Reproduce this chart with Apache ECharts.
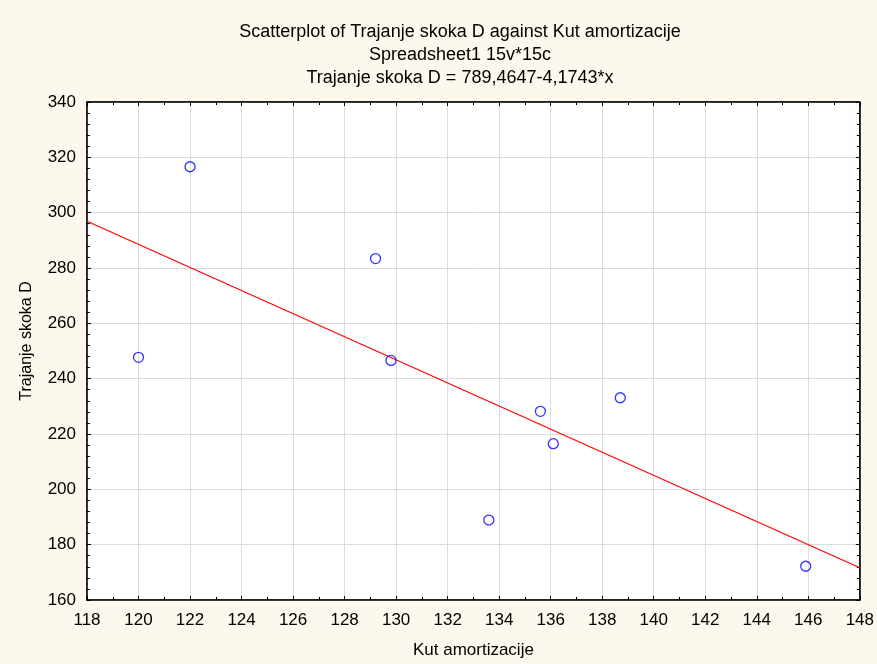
<!DOCTYPE html>
<html>
<head>
<meta charset="utf-8">
<script src="https://cdn.jsdelivr.net/npm/echarts@6/dist/echarts.min.js"></script>
<style>
  html, body { margin: 0; padding: 0; background: #fdf8ee; }
  #chart { width: 877px; height: 664px; }
</style>
</head>
<body>
<div id="chart"></div>
<script>
// data
const kutAmortizacije = [120.0, 122.0, 129.2, 129.8, 135.6, 136.1, 138.7, 133.6, 145.9]
const trajanjeSkoka = [247.7, 316.6, 283.4, 246.6, 228.2, 216.5, 233.1, 188.9, 172.2]
// fitted line from the subtitle
const intercept = 789.4647
const slope = -4.1743
const lineX = [118, 148]

const titleLines = [
  'Scatterplot of Trajanje skoka D against Kut amortizacije',
  'Spreadsheet1 15v*15c',
  'Trajanje skoka D = 789,4647-4,1743*x'
]

const font = 'Liberation Sans, Arial, sans-serif'
const points = kutAmortizacije.map((x, i) => [x, trajanjeSkoka[i]])
const fit = lineX.map(x => [x, intercept + slope * x])

const chart = echarts.init(document.getElementById('chart'))

const xCommon = {
  type: 'value',
  min: 118,
  max: 148,
  interval: 2,
  axisLine: { show: true, lineStyle: { color: '#000', width: 1.5 } },
  axisTick: { show: true, inside: true, length: 4, lineStyle: { color: '#000' } },
  minorTick: { show: true, splitNumber: 2, length: 3, lineStyle: { color: '#000' } }
}
const yCommon = {
  type: 'value',
  min: 160,
  max: 340,
  interval: 20,
  axisLine: { show: true, lineStyle: { color: '#000', width: 1.5 } },
  axisTick: { show: true, inside: true, length: 4, lineStyle: { color: '#000' } },
  minorTick: { show: true, splitNumber: 5, length: 3, lineStyle: { color: '#000' } }
}

chart.setOption({
  backgroundColor: '#fdf8ee',
  animation: false,
  textStyle: { fontFamily: font },
  title: titleLines.map((t, i) => ({
    text: t,
    left: 455,
    textAlign: 'center',
    top: 18 + i * 23,
    textStyle: { fontSize: 18, fontWeight: 'normal', color: '#000', fontFamily: font }
  })),
  grid: {
    left: 87,
    right: 11,
    top: 102,
    bottom: 63,
    show: true,
    backgroundColor: '#fff',
    borderColor: '#000',
    borderWidth: 1
  },
  xAxis: [
    Object.assign({}, xCommon, {
      position: 'bottom',
      name: 'Kut amortizacije',
      nameLocation: 'middle',
      nameGap: 42,
      nameTextStyle: { fontSize: 17, color: '#000', fontFamily: font },
      axisLabel: { fontSize: 17, color: '#000', margin: 12, fontFamily: font },
      splitLine: { show: true, lineStyle: { color: '#dcdcdc', width: 1 } }
    }),
    Object.assign({}, xCommon, {
      position: 'top',
      axisLabel: { show: false },
      splitLine: { show: false }
    })
  ],
  yAxis: [
    Object.assign({}, yCommon, {
      position: 'left',
      name: 'Trajanje skoka D',
      nameLocation: 'middle',
      nameGap: 52,
      nameTextStyle: { fontSize: 16, color: '#000', fontFamily: font, padding: [0, 0, 0, 20] },
      axisLabel: { fontSize: 17, color: '#000', margin: 11, fontFamily: font },
      splitLine: { show: true, lineStyle: { color: '#dcdcdc', width: 1 } }
    }),
    Object.assign({}, yCommon, {
      position: 'right',
      axisLabel: { show: false },
      splitLine: { show: false }
    })
  ],
  series: [
    {
      type: 'line',
      data: fit,
      symbol: 'none',
      lineStyle: { color: '#f00', width: 1.2 },
      z: 2
    },
    {
      type: 'scatter',
      data: points,
      symbol: 'circle',
      symbolSize: 10,
      itemStyle: { color: 'transparent', borderColor: '#0000ff', borderWidth: 1.3 },
      z: 3
    }
  ]
})
</script>
</body>
</html>
